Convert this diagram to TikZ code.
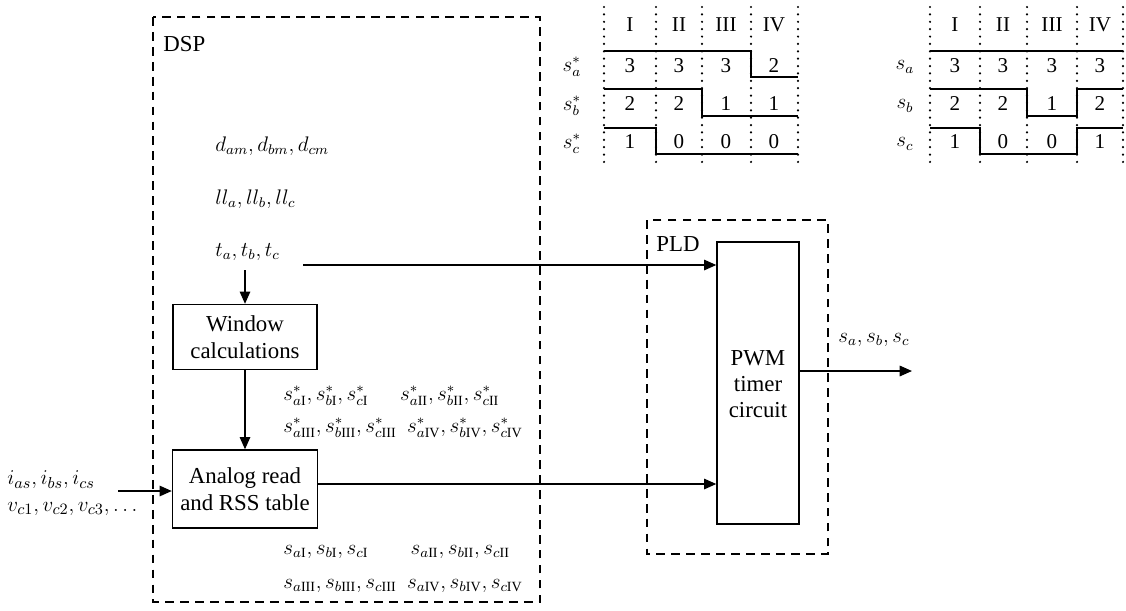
\documentclass[tikz,border=0pt]{standalone}
\usepackage{fontspec}
\setmainfont{Liberation Serif}
\usetikzlibrary{arrows.meta}

\begin{document}
\begin{tikzpicture}[x=0.02cm,y=-0.02cm,
  block/.style={draw,thick,align=center,inner sep=0pt,
                font=\fontsize{13}{15.5}\selectfont},
  frame/.style={draw,very thick,dash pattern=on 5pt off 3.5pt},
  arr/.style={-{Triangle[length=7pt,width=6pt]},thick},
  lbl/.style={inner sep=0pt,font=\fontsize{12}{14}\selectfont},
  txt/.style={inner sep=0pt,font=\fontsize{13}{15}\selectfont},
  cell/.style={inner sep=0pt,font=\fontsize{12}{14}\selectfont},
  dots/.style={line width=1.4pt,line cap=round,dash pattern=on 0pt off 4.2pt},
  level/.style={thick}]
  \useasboundingbox (0,0) rectangle (1126,610);

  % frames
  \draw[frame] (153,17) rectangle (540,602);
  \node[txt,anchor=west] (dsp) at (163,44) {DSP};
  \draw[frame] (647,220) rectangle (828,554);
  \node[txt,anchor=west] (pld) at (656,244) {PLD};

  % signals in the DSP
  \node[lbl,anchor=west] (d) at (215,146) {$d_{am}, d_{bm}, d_{cm}$};
  \node[lbl,anchor=west] (ll) at (215,199) {$ll_a, ll_b, ll_c$};
  \node[lbl,anchor=west] (t) at (215,252) {$t_a, t_b, t_c$};

  \node[block,minimum width=2.88cm,minimum height=1.3cm] (win) at (245,337)
       {Window\\calculations};
  \node[block,minimum width=2.9cm,minimum height=1.56cm] (rss) at (245,489)
       {Analog read\\and RSS table};
  \node[block,minimum width=1.64cm,minimum height=5.64cm] (pwm) at (758,383) {};
  \node[txt,align=center] (pwmtxt) at (758,384) {PWM\\timer\\circuit};

  \node[lbl,anchor=west] (sst1) at (283,396)
       {$s^*_{a\mathrm{I}}, s^*_{b\mathrm{I}}, s^*_{c\mathrm{I}}\quad\ \ s^*_{a\mathrm{II}}, s^*_{b\mathrm{II}}, s^*_{c\mathrm{II}}$};
  \node[lbl,anchor=west] (sst2) at (283,428)
       {$s^*_{a\mathrm{III}}, s^*_{b\mathrm{III}}, s^*_{c\mathrm{III}}\ \ s^*_{a\mathrm{IV}}, s^*_{b\mathrm{IV}}, s^*_{c\mathrm{IV}}$};
  \node[lbl,anchor=west] (s1) at (283,552)
       {$s_{a\mathrm{I}}, s_{b\mathrm{I}}, s_{c\mathrm{I}}\qquad s_{a\mathrm{II}}, s_{b\mathrm{II}}, s_{c\mathrm{II}}$};
  \node[lbl,anchor=west] (s2) at (283,586)
       {$s_{a\mathrm{III}}, s_{b\mathrm{III}}, s_{c\mathrm{III}}\ \ s_{a\mathrm{IV}}, s_{b\mathrm{IV}}, s_{c\mathrm{IV}}$};

  % inputs and outputs
  \node[txt,anchor=west] (iin) at (7,480) {$i_{as}, i_{bs}, i_{cs}$};
  \node[txt,anchor=west] (vin) at (7,509) {$v_{c1}, v_{c2}, v_{c3}, \ldots$};
  \coordinate (inp) at (118,491);
  \coordinate (tin) at (303,265);
  \coordinate (tdn) at (245,270);
  \coordinate (rin) at (318,484);
  \coordinate (out) at (912,371);
  \node[lbl] (sout) at (874,340) {$s_a, s_b, s_c$};

  \draw[arr] (tdn) -- (win.north);
  \draw[arr] (win) -- (rss);
  \draw[arr] (inp) -- (inp -| rss.west);
  \draw[arr] (tin) -- (tin -| pwm.west);
  \draw[arr] (rin) -- (rin -| pwm.west);
  \draw[arr] (out -| pwm.east) -- (out);

  % switching states, references
  \foreach \x in {604,656,702,751,798} \draw[dots] (\x,7) -- (\x,167);
  \foreach \w/\x in {I/630,II/679,III/726,IV/774}
    \node[cell] (ha\w) at (\x,25) {\w};
  \node[lbl] (ra) at (572,67) {$s^*_a$};
  \node[lbl] (rb) at (572,106) {$s^*_b$};
  \node[lbl] (rc) at (572,144) {$s^*_c$};
  \foreach \v/\x in {3/630,3/679,3/726,2/774} \node[cell] at (\x,66) {\v};
  \foreach \v/\x in {2/630,2/679,1/726,1/774} \node[cell] at (\x,104) {\v};
  \foreach \v/\x in {1/630,0/679,0/726,0/774} \node[cell] at (\x,142) {\v};
  \draw[level] (604,51) -- (751,51) -- (751,77) -- (798,77);
  \draw[level] (604,89) -- (702,89) -- (702,116) -- (798,116);
  \draw[level] (604,128) -- (656,128) -- (656,154) -- (798,154);

  % switching states, applied
  \foreach \x in {930,980,1027,1077,1123} \draw[dots] (\x,7) -- (\x,167);
  \foreach \w/\x in {I/955,II/1003,III/1052,IV/1100}
    \node[cell] (hb\w) at (\x,25) {\w};
  \node[lbl] (qa) at (905,67) {$s_a$};
  \node[lbl] (qb) at (905,106) {$s_b$};
  \node[lbl] (qc) at (905,144) {$s_c$};
  \foreach \v/\x in {3/955,3/1003,3/1052,3/1100} \node[cell] at (\x,66) {\v};
  \foreach \v/\x in {2/955,2/1003,1/1052,2/1100} \node[cell] at (\x,104) {\v};
  \foreach \v/\x in {1/955,0/1003,0/1052,1/1100} \node[cell] at (\x,142) {\v};
  \draw[level] (930,51) -- (1123,51);
  \draw[level] (930,89) -- (1027,89) -- (1027,116) -- (1077,116) -- (1077,89) -- (1123,89);
  \draw[level] (930,128) -- (980,128) -- (980,154) -- (1077,154) -- (1077,128) -- (1123,128);
\end{tikzpicture}
\end{document}
